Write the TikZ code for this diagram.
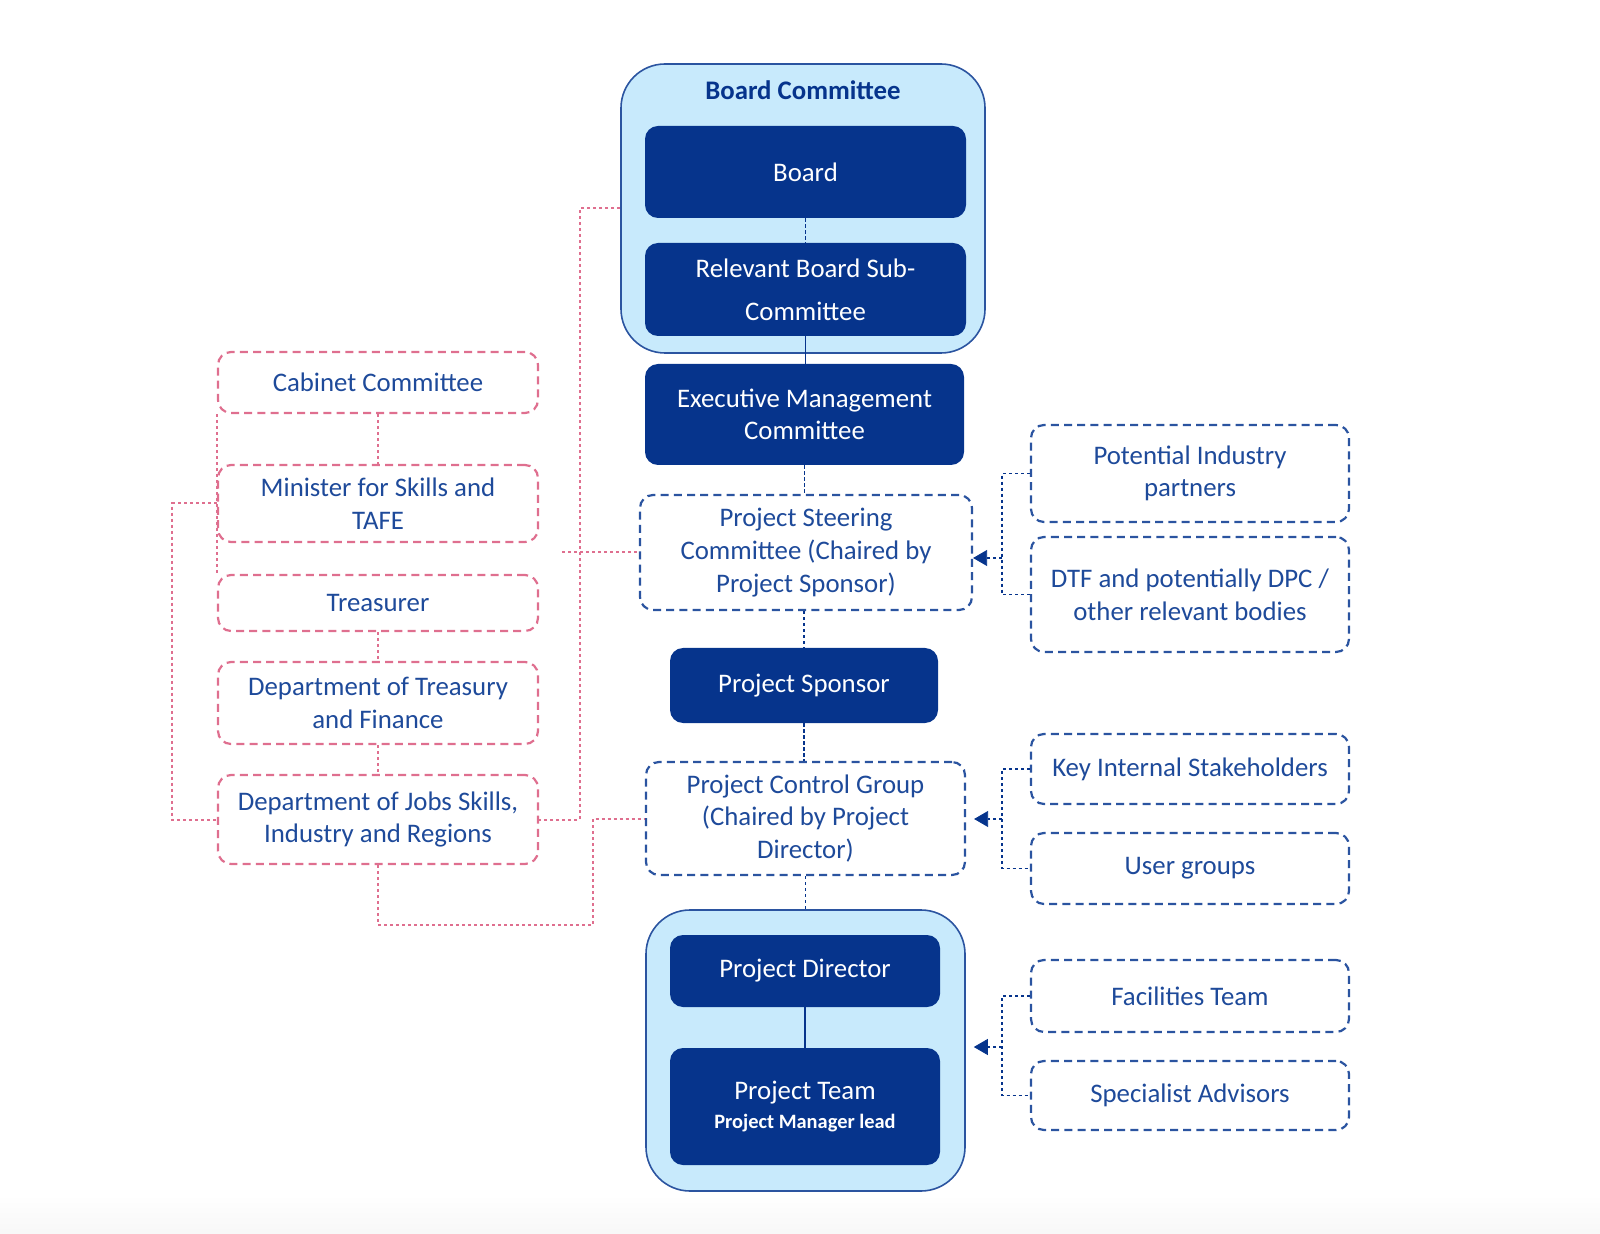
\documentclass[tikz,border=0pt]{standalone}
\usepackage{fontspec}
\setmainfont{Carlito}
\usetikzlibrary{arrows.meta}
\definecolor{navy}{HTML}{06348C}
\definecolor{txtblue}{HTML}{1E4A9A}
\definecolor{dashblue}{HTML}{2B54A0}
\definecolor{lightfill}{HTML}{C8EAFC}
\definecolor{pinkc}{HTML}{DF6F8F}
\tikzset{
  navybox/.style={rectangle, rounded corners=6.5pt, fill=navy, text=white, align=center, inner sep=0pt,
    font=\fontsize{13.4}{16.3}\selectfont},
  container/.style={rectangle, rounded corners=22pt, fill=lightfill, draw=dashblue, line width=0.8pt, inner sep=0pt},
  bluedash/.style={rectangle, rounded corners=6.5pt, draw=dashblue, line width=1.1pt, dash pattern=on 4pt off 2.6pt,
    fill=white, text=txtblue, align=center, inner sep=0pt, font=\fontsize{13.4}{16.3}\selectfont},
  pinkdash/.style={rectangle, rounded corners=6.5pt, draw=pinkc, line width=1.1pt, dash pattern=on 4pt off 2.6pt,
    text=txtblue, align=center, inner sep=0pt, font=\fontsize{13.4}{16.3}\selectfont},
  bconn/.style={draw=navy, line width=0.9pt, dash pattern=on 1.6pt off 1.4pt},
  bsolid/.style={draw=navy, line width=0.9pt},
  pconn/.style={draw=pinkc, line width=1pt, dash pattern=on 1.6pt off 1.4pt},
  barrow/.style={bconn, -{Triangle[length=7pt,width=8pt,fill=navy,line width=0.4pt]}},
}
\begin{document}
\begin{tikzpicture}[x=0.5pt,y=-0.5pt]
\useasboundingbox (0,0) rectangle (1600,1234);
\shade[top color=white, bottom color=black!3] (0,1195) rectangle (1600,1234);

% containers
\node[container, minimum width=182pt, minimum height=144.5pt] (BC) at (803,208.5) {};
\node[text=navy, font=\fontsize{13.4}{16.3}\selectfont\bfseries] (BCt) at (803,90) {Board Committee};
\node[container, minimum width=159.5pt, minimum height=140.5pt] (PC) at (805.5,1050.5) {};

% central column
\node[navybox, minimum width=160.5pt, minimum height=46pt] (Board) at (805.5,172) {Board};
\node[navybox, minimum width=160.5pt, minimum height=46.5pt] (Sub) at (805.5,289.5) {Relevant Board Sub-\\[5.2pt]Committee};
\node[navybox, minimum width=159.5pt, minimum height=50.5pt] (Exec) at (804.5,414.5) {Executive Management\\Committee};
\node[bluedash, minimum width=166pt, minimum height=57.5pt] (Steer) at (806,552.5) {Project Steering\\Committee (Chaired by\\Project Sponsor)};
\node[navybox, minimum width=134pt, minimum height=37.5pt] (Sponsor) at (804,685.5) {Project Sponsor};
\node[bluedash, minimum width=159.5pt, minimum height=56.5pt] (Control) at (805.5,818.5) {Project Control Group\\(Chaired by Project\\Director)};
\node[navybox, minimum width=135pt, minimum height=36pt] (Director) at (805,971) {Project Director};
\node[navybox, minimum width=135pt, minimum height=58.5pt] (Team) at (805,1106.5) {Project Team\\[-1.5pt]{\fontsize{10.2}{12}\selectfont\bfseries Project Manager lead}};

% right column
\node[bluedash, minimum width=159pt, minimum height=48.5pt] (Pot) at (1190,473.5) {Potential Industry\\partners};
\node[bluedash, minimum width=159pt, minimum height=57.5pt] (DTF) at (1190,594.5) {DTF and potentially DPC /\\other relevant bodies};
\node[bluedash, minimum width=159pt, minimum height=35pt] (Key) at (1190,769) {Key Internal Stakeholders};
\node[bluedash, minimum width=159pt, minimum height=35.5pt] (User) at (1190,868.5) {User groups};
\node[bluedash, minimum width=159pt, minimum height=36pt] (Fac) at (1190,996) {Facilities Team};
\node[bluedash, minimum width=159pt, minimum height=34.5pt] (Spec) at (1190,1095.5) {Specialist Advisors};

% left column
\node[pinkdash, minimum width=160pt, minimum height=30.5pt] (Cab) at (378,382.5) {Cabinet Committee};
\node[pinkdash, minimum width=160pt, minimum height=38.5pt] (Min) at (378,503.5) {Minister for Skills and\\TAFE};
\node[pinkdash, minimum width=160pt, minimum height=28pt] (Tre) at (378,603) {Treasurer};
\node[pinkdash, minimum width=160pt, minimum height=41pt] (DTFin) at (378,703) {Department of Treasury\\and Finance};
\node[pinkdash, minimum width=160pt, minimum height=44.5pt] (Jobs) at (378,819.5) {Department of Jobs Skills,\\Industry and Regions};

% central connectors
\draw[bconn] (Board.south) -- (Sub.north);
\draw[bsolid] (Sub.south) -- (Exec.north -| Sub.south);
\draw[bconn] (Exec.south) -- (Steer.north -| Exec.south);
\draw[bconn] (Steer.south -| Sponsor.north) -- (Sponsor.north);
\draw[bconn] (Sponsor.south) -- (Control.north -| Sponsor.south);
\draw[bconn] (Control.south) -- (PC.north -| Control.south);
\draw[bsolid] (Director.south) -- (Team.north);

% right brackets
\coordinate (j1) at (1002,558);
\coordinate (j2) at (1002,819);
\coordinate (j3) at (1002,1047);
\draw[bconn] (Pot.west) -| (j1) |- (DTF.west);
\draw[barrow] (j1) -- (j1 -| Steer.east);
\draw[bconn] (Key.west) -| (j2) |- (User.west);
\draw[barrow, shorten >=4pt] (j2) -- (j2 -| Control.east);
\draw[bconn] (Fac.west) -| (j3) |- (Spec.west);
\draw[barrow, shorten >=4pt] (j3) -- (j3 -| PC.east);

% pink connectors
\draw[pconn] (Cab.south) -- (Min.north);
\draw[pconn] (Tre.south) -- (DTFin.north);
\draw[pconn] (DTFin.south) -- (Jobs.north);
\draw[pconn] (Cab.south west) -- (Tre.north west);
\coordinate (pl) at (172,819.5);
\draw[pconn] (Min.west) -| (pl) -- (Jobs.west);
\coordinate (pv) at (580,819.5);
\draw[pconn] (BC.west) -| (pv) -- (Jobs.east);
\coordinate (ps) at (562,552.5);
\draw[pconn] (ps) -- (Steer.west);
\coordinate (pc) at (593,925);
\draw[pconn] (Jobs.south) |- (pc) |- (Control.west);
\end{tikzpicture}
\end{document}
